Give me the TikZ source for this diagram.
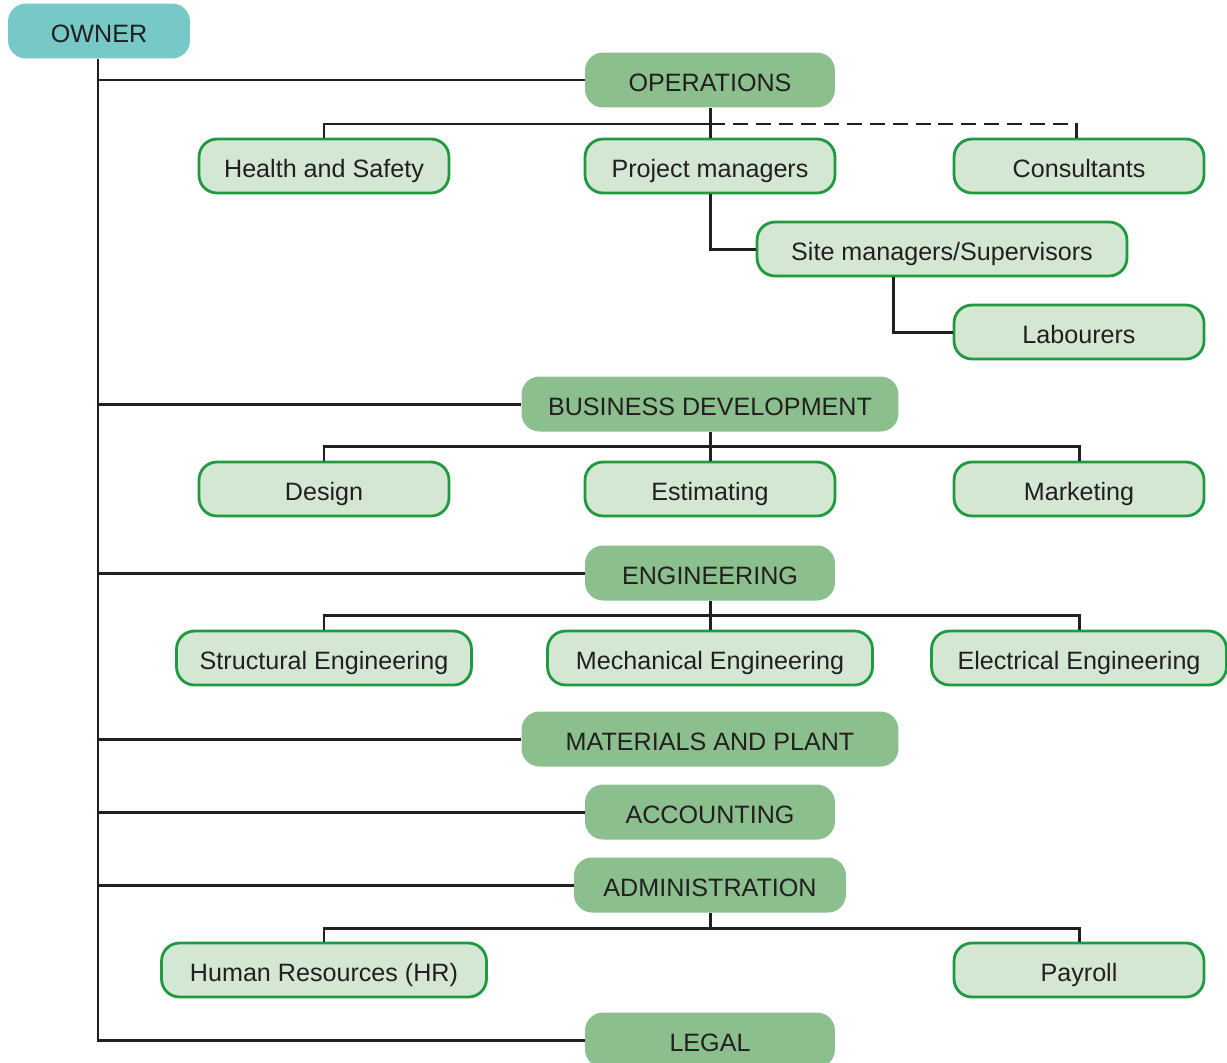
\documentclass[tikz,border=0pt]{standalone}
\usepackage{fontspec}
\setmainfont{Liberation Sans}
\usepackage{tikz}
\usetikzlibrary{arrows}

\definecolor{ownerteal}{HTML}{76C9C6}
\definecolor{deptgreen}{HTML}{8CBF8E}
\definecolor{unitfill}{HTML}{D3E7D3}
\definecolor{unitline}{HTML}{1F9A40}
\definecolor{inkgray}{HTML}{231F20}

\begin{document}
\begin{tikzpicture}[x=0.02cm, y=-0.02cm,
  box/.style={rounded corners=0.36cm, minimum height=1.1cm, text height=1.35em, text depth=0pt,
    font=\fontsize{14.3}{16}\selectfont, text=inkgray},
  head/.style={box, fill=ownerteal, minimum width=3.64cm},
  dept/.style={box, fill=deptgreen, minimum width=5cm},
  unit/.style={box, fill=unitfill, draw=unitline, line width=1.6pt, minimum width=5cm, minimum height=1.08cm},
  wire/.style={draw=inkgray, line width=1.7pt}]
\useasboundingbox (0,0) rectangle (1227,1062);

% owner and departments
\node[head] at (99,31) (owner) {OWNER};
\node[dept] at (710,80) (ops) {OPERATIONS};
\node[dept, minimum width=7.54cm] at (710,404) (bizdev) {BUSINESS DEVELOPMENT};
\node[dept] at (710,573) (eng) {ENGINEERING};
\node[dept, minimum width=7.54cm] at (710,739) (mat) {MATERIALS AND PLANT};
\node[dept] at (710,812) (acc) {ACCOUNTING};
\node[dept, minimum width=5.44cm] at (710,885) (admin) {ADMINISTRATION};
\node[dept] at (710,1040) (legal) {LEGAL};

% operations units
\node[unit] at (324,166) (hs) {Health and Safety};
\node[unit] at (710,166) (pm) {Project managers};
\node[unit] at (1079,166) (cons) {Consultants};
\node[unit, minimum width=7.4cm] at (942,249) (site) {Site managers/Supervisors};
\node[unit] at (1079,332) (lab) {Labourers};

% business development units
\node[unit] at (324,489) (design) {Design};
\node[unit] at (710,489) (est) {Estimating};
\node[unit] at (1079,489) (mkt) {Marketing};

% engineering units
\node[unit, minimum width=5.9cm] at (324,658) (struct) {Structural Engineering};
\node[unit, minimum width=6.5cm] at (710,658) (mech) {Mechanical Engineering};
\node[unit, minimum width=5.9cm] at (1079,658) (elec) {Electrical Engineering};

% administration units
\node[unit, minimum width=6.5cm] at (324,970) (hr) {Human Resources (HR)};
\node[unit] at (1079,970) (pay) {Payroll};

% bus points
\coordinate (spine) at (98,0);
\coordinate (opsbus) at (710,124);
\coordinate (consbus) at (1076,124);
\coordinate (sitedrop) at (893,0);
\coordinate (bizbus) at (710,446);
\coordinate (engbus) at (710,615);
\coordinate (adminbus) at (710,928);

% owner spine
\path[wire] (owner.south -| spine) -- (legal.west -| spine) -- (legal.west);
\foreach \d in {ops, bizdev, eng, mat, acc, admin}
  \path[wire] (\d.west -| spine) -- (\d.west);

% operations
\path[wire] (ops.south) -- (pm.north);
\path[wire] (hs.north) |- (opsbus);
\path[wire, dash pattern=on 8.5pt off 4.5pt] (opsbus) -- (consbus) -- (cons.north -| consbus);
\path[wire] (pm.south) |- (site.west);
\path[wire] (site.south -| sitedrop) |- (lab.west);

% business development
\path[wire] (bizdev.south) -- (est.north);
\path[wire] (design.north) |- (bizbus) -| (mkt.north);

% engineering
\path[wire] (eng.south) -- (mech.north);
\path[wire] (struct.north) |- (engbus) -| (elec.north);

% administration
\path[wire] (admin.south) -- (adminbus);
\path[wire] (hr.north) |- (adminbus) -| (pay.north);

\end{tikzpicture}
\end{document}
